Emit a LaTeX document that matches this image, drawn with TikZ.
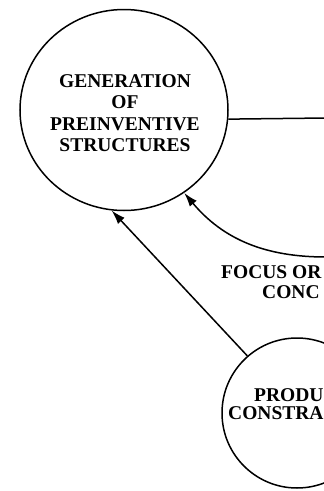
\documentclass[tikz,border=0pt]{standalone}
\usepackage{fontspec}
\setmainfont{Liberation Serif}
\usetikzlibrary{arrows.meta,shapes.geometric}
\begin{document}
\begin{tikzpicture}[x=1pt,y=1pt,
  lbl/.style={font=\fontsize{19.5}{21.3}\selectfont\bfseries, inner sep=0pt},
  ring/.style={draw, line width=1.5pt},
  conn/.style={line width=1.5pt},
  tip/.style={-{Latex[length=14pt,width=9pt]}}]
\useasboundingbox (0,0) rectangle (324,-491);
\clip (0,0) rectangle (324,-491);
\fill[white] (0,0) rectangle (324,-491);
% big ellipse
\node[ring, ellipse, inner sep=0pt, minimum width=208pt, minimum height=201pt] (gen) at (124,-110) {};
\node[lbl, align=center] (gentext) at (125,-113) {GENERATION\\OF\\PREINVENTIVE\\STRUCTURES};
% lower circle
\node[ring, circle, inner sep=0pt, minimum size=150pt] (prod) at (297,-413) {};
\node[lbl, anchor=base west] (prodA) at (254,-401) {PRODU};
\node[lbl, anchor=base west] (prodB) at (228,-419) {CONSTRA};
% focus label
\node[lbl, anchor=base west] (focA) at (221,-278) {FOCUS OR};
\node[lbl, anchor=base west] (focB) at (262,-298) {CONC};
% edge coordinates
\coordinate (hright) at (326,-118);
\coordinate (cright) at (326,-257);
% connectors
\draw[conn] (gen.355.6) -- (hright);
\draw[conn, tip] (cright) to[out=180, in=-50] (gen.306);
\draw[conn, tip] (prod.131) -- (gen.263);
\end{tikzpicture}
\end{document}
